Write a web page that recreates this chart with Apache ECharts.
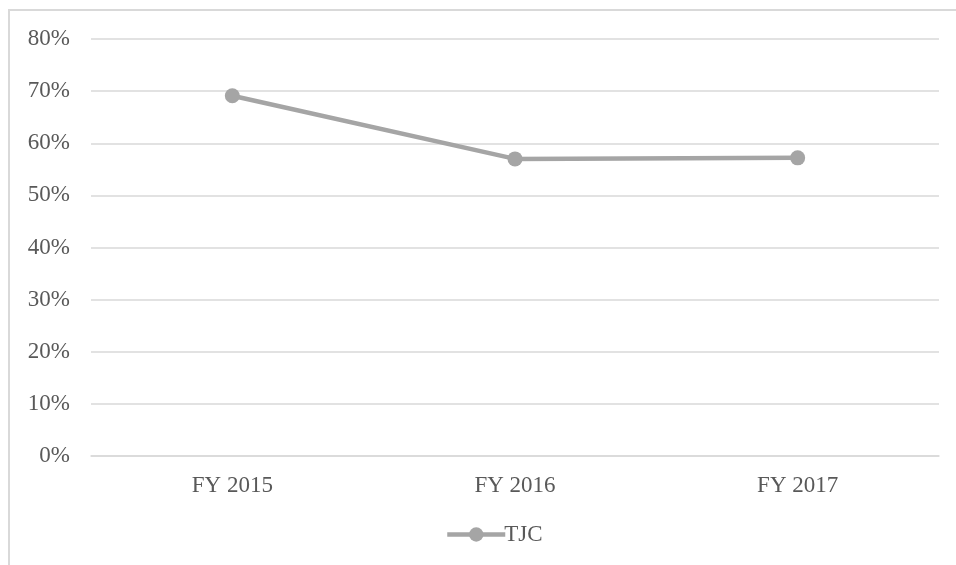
<!DOCTYPE html>
<html>
<head>
<meta charset="utf-8">
<script src="https://cdn.jsdelivr.net/npm/echarts@6/dist/echarts.min.js"></script>
<style>
  html, body { margin: 0; padding: 0; background: #fff; }
  #frame {
    position: absolute; left: 8px; top: 9px; width: 1000px; height: 600px;
    border-top: 2px solid #d9d9d9; border-left: 2px solid #d9d9d9;
  }
  #chart { position: absolute; left: 0; top: 0; width: 956px; height: 565px; }
</style>
</head>
<body>
<div id="frame"></div>
<div id="chart"></div>
<script>
const years = ["FY 2015", "FY 2016", "FY 2017"];
const tjc = [69.1, 57.0, 57.2];

const chart = echarts.init(document.getElementById("chart"));
const font = "'Liberation Serif', 'Times New Roman', serif";

chart.setOption({
  animation: false,
  grid: { left: 91, right: 17, top: 39, bottom: 109 },
  xAxis: {
    type: "category",
    data: years,
    boundaryGap: true,
    axisLine: { lineStyle: { color: "#d9d9d9", width: 1.5 } },
    axisTick: { show: false },
    axisLabel: { color: "#595959", fontFamily: font, fontSize: 23, margin: 18 }
  },
  yAxis: {
    type: "value",
    min: 0,
    max: 80,
    interval: 10,
    axisLine: { show: false },
    axisTick: { show: false },
    splitLine: { lineStyle: { color: "#d9d9d9", width: 1.5 } },
    axisLabel: {
      color: "#595959", fontFamily: font, fontSize: 23, margin: 21,
      formatter: "{value}%"
    }
  },
  legend: {
    bottom: 14,
    left: 440,
    itemWidth: 58,
    itemHeight: 18,
    itemGap: 5,
    lineStyle: { width: 4.5 },
    textStyle: { color: "#595959", fontFamily: font, fontSize: 23, padding: [0, 0, 0, -6] },
    data: ["TJC"]
  },
  series: [{
    name: "TJC",
    type: "line",
    data: tjc,
    symbol: "circle",
    symbolSize: 15,
    lineStyle: { color: "#a5a5a5", width: 4.5 },
    itemStyle: { color: "#a5a5a5" }
  }]
});
</script>
</body>
</html>
